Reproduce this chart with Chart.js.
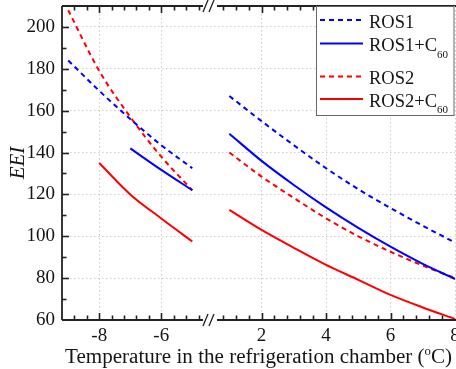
<!DOCTYPE html>
<html>
<head>
<meta charset="utf-8">
<script src="https://cdn.jsdelivr.net/npm/chart.js@4.4.0/dist/chart.umd.min.js"></script>
<style>
  html, body { margin: 0; padding: 0; background: #fff; }
</style>
</head>
<body>
<canvas id="chart" width="456" height="369"></canvas>
<script>
// temperatures (°C) on each side of the axis break
const leftTemps = [-9, -8, -7, -6, -5];
const rightTemps = [1, 2, 3, 4, 5, 6, 7, 8];

// EEI values (null = no point)
const ros1Left = [184, 169.5, 156, 143.5, 132.5];
const ros1Right = [167, 155, 143.5, 132.5, 122.5, 113.5, 105, 97];
const ros1c60Left = [null, null, 142, 131.7, 122];
const ros1c60Right = [149, 136, 124.5, 113.8, 104, 95, 86.8, 79.6];
const ros2Left = [208, 179, 157, 138, 122];
const ros2Right = [140, 128.5, 118.3, 108.6, 100, 92.6, 86, 80];
const ros2c60Left = [null, 135, 120, 108.5, 97.5];
const ros2c60Right = [112.6, 103, 94.5, 86.3, 79.2, 72, 66, 60.5];

const seriesLabels = ['ROS1', 'ROS1+C60', 'ROS2', 'ROS2+C60'];

const xTicksLeft = [-8, -6];
const xTicksRight = [2, 4, 6, 8];
const yTicks = [60, 80, 100, 120, 140, 160, 180, 200];

const SERIF = '"Liberation Serif", "Times New Roman", serif';
const GRID = '#cdcdcd';
const INK = '#151515';
const BLUE = '#0000ff';
const RED = '#ff0000';

const leftData = [ros1Left, ros1c60Left, ros2Left, ros2c60Left];
const rightData = [ros1Right, ros1c60Right, ros2Right, ros2c60Right];
const lineColors = [BLUE, BLUE, RED, RED];
const lineDashed = [true, false, true, false];

function pts(xs, ys) {
  return xs.map((x, i) => ({x: x, y: ys[i]})).filter(p => p.y !== null);
}

const datasets = [];
seriesLabels.forEach((name, i) => {
  const style = {
    borderColor: lineColors[i],
    backgroundColor: lineColors[i],
    borderWidth: 2,
    borderDash: lineDashed[i] ? [5, 4] : [],
    pointRadius: 0,
    fill: false,
    cubicInterpolationMode: 'monotone'
  };
  datasets.push(Object.assign({label: name, data: pts(leftTemps, leftData[i]), xAxisID: 'x1'}, style));
  datasets.push(Object.assign({label: name, data: pts(rightTemps, rightData[i]), xAxisID: 'x2'}, style));
});

function xScale(min, max, weight, ticks) {
  return {
    type: 'linear',
    position: 'bottom',
    stack: 'temp',
    stackWeight: weight,
    min: min,
    max: max,
    afterBuildTicks: s => { s.ticks = ticks.map(v => ({value: v})); },
    afterFit: s => { s.height = 49; s.paddingLeft = 0; s.paddingRight = 0; },
    grid: {color: GRID, lineWidth: 1, drawTicks: false},
    border: {display: false, dash: [1.5, 2.5]},
    ticks: {padding: 5, color: INK, autoSkip: false, maxRotation: 0, font: {family: SERIF, size: 19}}
  };
}

// every step between the majors, inside (min, max)
function tickRun(majors, min, max, step) {
  const out = [];
  for (let k = -200; k <= 200; k++) {
    const v = +(majors[0] + k * step).toFixed(4);
    if (v > min + 1e-6 && v < max - 1e-6) out.push(v);
  }
  return out;
}

function line(ctx, x1, y1, x2, y2) {
  ctx.beginPath();
  ctx.moveTo(x1, y1);
  ctx.lineTo(x2, y2);
  ctx.stroke();
}

const decor = {
  id: 'decor',
  afterDraw(chart) {
    const {ctx, chartArea: a, scales} = chart;
    ctx.save();
    ctx.setLineDash([]);
    ctx.strokeStyle = '#222';

    // frame (right side falls off the picture)
    ctx.lineWidth = 1.8;
    line(ctx, a.left, a.top, a.left, a.bottom);
    line(ctx, a.left, a.bottom, a.right + 1, a.bottom);
    line(ctx, a.left, a.top, a.right + 1, a.top);

    // inward ticks
    ctx.lineWidth = 1.6;
    [['x1', xTicksLeft], ['x2', xTicksRight]].forEach(([id, majors]) => {
      const s = scales[id];
      tickRun(majors, s.min, s.max, 0.4).forEach(v => {
        const px = Math.round(s.getPixelForValue(v)) + 0.5;
        const len = majors.includes(v) ? 7 : 4.5;
        line(ctx, px, a.bottom, px, a.bottom - len);
        line(ctx, px, a.top, px, a.top + len);
      });
    });
    const ys = scales.y;
    tickRun(yTicks, ys.min, ys.max, 10).forEach(v => {
      const py = Math.round(ys.getPixelForValue(v)) + 0.5;
      const len = yTicks.includes(v) ? 7 : 4.5;
      line(ctx, a.left, py, a.left + len, py);
    });

    // axis break marks
    const bx = scales.x1.right;
    [a.top, a.bottom].forEach(y => {
      ctx.fillStyle = '#fff';
      ctx.fillRect(bx - 7, y - 2, 14, 4);
      ctx.lineWidth = 1.3;
      line(ctx, bx - 7, y + 6, bx - 2, y - 6);
      line(ctx, bx - 1, y + 6, bx + 4, y - 6);
    });

    // legend
    const lx = 316.5, ly = 6, lw = a.right - lx, lh = 109;
    ctx.fillStyle = '#fff';
    ctx.fillRect(lx, ly, lw, lh);
    ctx.strokeStyle = '#666';
    ctx.lineWidth = 1;
    ctx.strokeRect(lx, ly + 0.5, lw - 1, lh);
    const rowY = [20, 43.5, 76.5, 99];
    seriesLabels.forEach((name, i) => {
      const ds = chart.data.datasets[i * 2];
      const y = rowY[i];
      ctx.strokeStyle = ds.borderColor;
      ctx.lineWidth = 2;
      ctx.setLineDash(ds.borderDash);
      line(ctx, 320, y, 363, y);
      ctx.setLineDash([]);
      ctx.fillStyle = INK;
      ctx.textBaseline = 'alphabetic';
      ctx.textAlign = 'left';
      ctx.font = '18.5px ' + SERIF;
      const sub = name.endsWith('C60');
      const main = sub ? name.slice(0, -2) : name;
      ctx.fillText(main, 369, y + 7.5);
      if (sub) {
        const w = ctx.measureText(main).width;
        ctx.font = '11px ' + SERIF;
        ctx.fillText('60', 369 + w, y + 14);
      }
    });

    // x axis title with superscript o
    const parts = [['Temperature in the refrigeration chamber (', 20, 0], ['o', 12, -8], ['C)', 20, 0]];
    let total = 0;
    parts.forEach(p => { ctx.font = p[1] + 'px ' + SERIF; total += ctx.measureText(p[0]).width; });
    const k = 387 / total;
    ctx.save();
    ctx.translate(65, 363);
    ctx.scale(k, 1);
    ctx.fillStyle = INK;
    let x = 0;
    parts.forEach(p => {
      ctx.font = p[1] + 'px ' + SERIF;
      ctx.fillText(p[0], x, p[2]);
      x += ctx.measureText(p[0]).width;
    });
    ctx.restore();

    ctx.restore();
  }
};

new Chart(document.getElementById('chart'), {
  type: 'line',
  data: {datasets: datasets},
  options: {
    responsive: false,
    animation: false,
    layout: {padding: {top: 6, right: 1, left: 0, bottom: 0}},
    plugins: {legend: {display: false}, tooltip: {enabled: false}},
    scales: {
      x1: xScale(-9.2, -4.43, 148, xTicksLeft),
      x2: xScale(0.4, 8, 245, xTicksRight),
      y: {
        type: 'linear',
        position: 'left',
        min: 60,
        max: 210,
        afterBuildTicks: s => { s.ticks = yTicks.map(v => ({value: v})); },
        afterFit: s => { s.width = 62; s.paddingTop = 0; s.paddingBottom = 0; },
        grid: {color: GRID, lineWidth: 1, drawTicks: false},
        border: {display: false, dash: [1.5, 2.5]},
        ticks: {padding: 7, color: INK, font: {family: SERIF, size: 19}},
        title: {
          display: true,
          text: 'EEI',
          color: INK,
          font: {family: SERIF, size: 21, style: 'italic'},
          padding: {top: 6, bottom: 0}
        }
      }
    }
  },
  plugins: [decor]
});
</script>
</body>
</html>
